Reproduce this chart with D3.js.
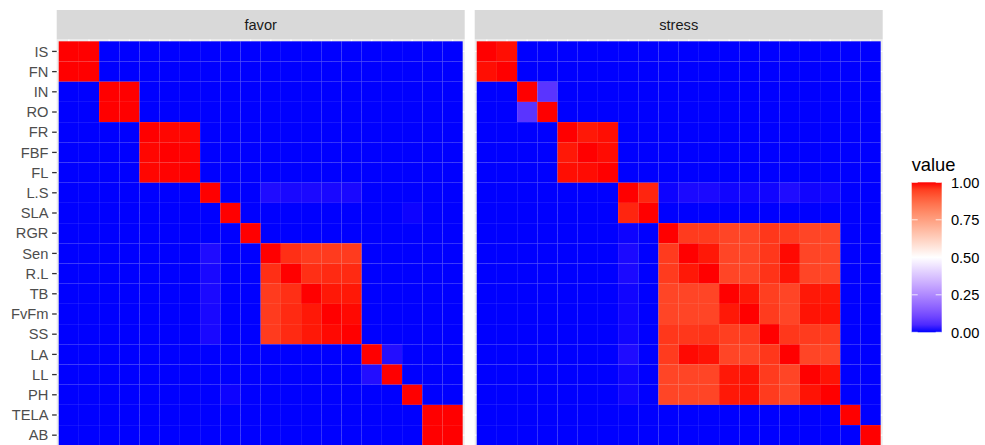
<!DOCTYPE html>
<html>
<head>
<meta charset="utf-8">
<script src="https://cdn.jsdelivr.net/npm/d3@7"></script>
<style>
  html, body { margin: 0; padding: 0; background: #ffffff; overflow: hidden; }
  svg { display: block; }
  text { font-family: "Liberation Sans", Arial, Helvetica, sans-serif; }
</style>
</head>
<body>
<svg id="chart" width="985" height="445"></svg>
<script>
// Trait names (rows top to bottom, columns left to right)
const traits = ["IS", "FN", "IN", "RO", "FR", "FBF", "FL", "L.S", "SLA", "RGR",
                "Sen", "R.L", "TB", "FvFm", "SS", "LA", "LL", "PH", "TELA", "AB"];

// Facet names
const facets = ["favor", "stress"];

// Pairwise values under the favourable condition
const favorValues = [
  [1, 1, 0, 0, 0, 0, 0, 0, 0, 0, 0, 0, 0, 0, 0, 0, 0, 0, 0, 0],
  [1, 1, 0, 0, 0, 0, 0, 0, 0, 0, 0, 0, 0, 0, 0, 0, 0, 0, 0, 0],
  [0, 0, 1, 1, 0, 0, 0, 0, 0, 0, 0, 0, 0, 0, 0, 0, 0, 0, 0, 0],
  [0, 0, 1, 1, 0, 0, 0, 0, 0, 0, 0, 0, 0, 0, 0, 0, 0, 0, 0, 0],
  [0, 0, 0, 0, 1, 0.998, 0.998, 0, 0, 0, 0, 0, 0, 0, 0, 0, 0, 0, 0, 0],
  [0, 0, 0, 0, 0.998, 1, 0.999, 0, 0, 0, 0, 0, 0, 0, 0, 0, 0, 0, 0, 0],
  [0, 0, 0, 0, 0.998, 0.999, 1, 0, 0, 0, 0, 0, 0, 0, 0, 0, 0, 0, 0, 0],
  [0, 0, 0, 0, 0, 0, 0, 1, 0, 0, 0.01, 0.007, 0.008, 0.007, 0.007, 0, 0, 0, 0, 0],
  [0, 0, 0, 0, 0, 0, 0, 0, 1, 0, 0, 0, 0, 0, 0, 0, 0, 0.003, 0, 0],
  [0, 0, 0, 0, 0, 0, 0, 0, 0, 1, 0, 0, 0, 0, 0, 0, 0, 0, 0, 0],
  [0, 0, 0, 0, 0, 0, 0, 0.01, 0, 0, 1, 0.97, 0.955, 0.955, 0.955, 0, 0, 0, 0, 0],
  [0, 0, 0, 0, 0, 0, 0, 0.007, 0, 0, 0.97, 1, 0.97, 0.975, 0.975, 0, 0, 0, 0, 0],
  [0, 0, 0, 0, 0, 0, 0, 0.008, 0, 0, 0.955, 0.97, 1, 0.99, 0.99, 0, 0, 0, 0, 0],
  [0, 0, 0, 0, 0, 0, 0, 0.007, 0, 0, 0.955, 0.975, 0.99, 1, 0.997, 0, 0, 0, 0, 0],
  [0, 0, 0, 0, 0, 0, 0, 0.007, 0, 0, 0.955, 0.975, 0.99, 0.997, 1, 0, 0, 0, 0, 0],
  [0, 0, 0, 0, 0, 0, 0, 0, 0, 0, 0, 0, 0, 0, 0, 1, 0.012, 0, 0, 0],
  [0, 0, 0, 0, 0, 0, 0, 0, 0, 0, 0, 0, 0, 0, 0, 0.012, 1, 0, 0, 0],
  [0, 0, 0, 0, 0, 0, 0, 0, 0.003, 0, 0, 0, 0, 0, 0, 0, 0, 1, 0, 0],
  [0, 0, 0, 0, 0, 0, 0, 0, 0, 0, 0, 0, 0, 0, 0, 0, 0, 0, 1, 1],
  [0, 0, 0, 0, 0, 0, 0, 0, 0, 0, 0, 0, 0, 0, 0, 0, 0, 0, 1, 1]
];

// Pairwise values under the stress condition
const stressValues = [
  [1, 0.995, 0, 0, 0, 0, 0, 0, 0, 0, 0, 0, 0, 0, 0, 0, 0, 0, 0, 0],
  [0.995, 1, 0, 0, 0, 0, 0, 0, 0, 0, 0, 0, 0, 0, 0, 0, 0, 0, 0, 0],
  [0, 0, 1, 0.07, 0, 0, 0, 0, 0, 0, 0, 0, 0, 0, 0, 0, 0, 0, 0, 0],
  [0, 0, 0.07, 1, 0, 0, 0, 0, 0, 0, 0, 0, 0, 0, 0, 0, 0, 0, 0, 0],
  [0, 0, 0, 0, 1, 0.99, 0.995, 0, 0, 0, 0, 0, 0, 0, 0, 0, 0, 0, 0, 0],
  [0, 0, 0, 0, 0.99, 1, 0.996, 0, 0, 0, 0, 0, 0, 0, 0, 0, 0, 0, 0, 0],
  [0, 0, 0, 0, 0.995, 0.996, 1, 0, 0, 0, 0, 0, 0, 0, 0, 0, 0, 0, 0, 0],
  [0, 0, 0, 0, 0, 0, 0, 1, 0.98, 0.003, 0.008, 0.008, 0.004, 0.004, 0.004, 0.01, 0.004, 0.004, 0, 0],
  [0, 0, 0, 0, 0, 0, 0, 0.98, 1, 0, 0, 0, 0, 0, 0, 0, 0, 0, 0, 0],
  [0, 0, 0, 0, 0, 0, 0, 0.003, 0, 1, 0.955, 0.955, 0.94, 0.94, 0.96, 0.955, 0.94, 0.94, 0, 0],
  [0, 0, 0, 0, 0, 0, 0, 0.008, 0, 0.955, 1, 0.99, 0.94, 0.94, 0.96, 0.997, 0.94, 0.94, 0, 0],
  [0, 0, 0, 0, 0, 0, 0, 0.008, 0, 0.955, 0.99, 1, 0.94, 0.94, 0.965, 0.993, 0.94, 0.94, 0, 0],
  [0, 0, 0, 0, 0, 0, 0, 0.004, 0, 0.94, 0.94, 0.94, 1, 0.99, 0.95, 0.94, 0.99, 0.99, 0, 0],
  [0, 0, 0, 0, 0, 0, 0, 0.004, 0, 0.94, 0.94, 0.94, 0.99, 1, 0.955, 0.94, 0.993, 0.993, 0, 0],
  [0, 0, 0, 0, 0, 0, 0, 0.004, 0, 0.96, 0.96, 0.965, 0.95, 0.955, 1, 0.96, 0.955, 0.955, 0, 0],
  [0, 0, 0, 0, 0, 0, 0, 0.01, 0, 0.955, 0.997, 0.993, 0.94, 0.94, 0.96, 1, 0.94, 0.94, 0, 0],
  [0, 0, 0, 0, 0, 0, 0, 0.004, 0, 0.94, 0.94, 0.94, 0.99, 0.993, 0.955, 0.94, 1, 0.993, 0, 0],
  [0, 0, 0, 0, 0, 0, 0, 0.004, 0, 0.94, 0.94, 0.94, 0.99, 0.993, 0.955, 0.94, 0.993, 1, 0, 0],
  [0, 0, 0, 0, 0, 0, 0, 0, 0, 0, 0, 0, 0, 0, 0, 0, 0, 0, 1, 0],
  [0, 0, 0, 0, 0, 0, 0, 0, 0, 0, 0, 0, 0, 0, 0, 0, 0, 0, 0, 1]
];

// Colour bar breaks
const legendBreaks = [0, 0.25, 0.5, 0.75, 1];
const legendLabels = ["0.00", "0.25", "0.50", "0.75", "1.00"];

const valuesByFacet = { favor: favorValues, stress: stressValues };

const svg = d3.select("#chart");

// Layout
const panelLeft = [56.7, 474.7];
const panelW = 408;
const panelTop = 39.3;
const panelH = 408;
const stripTop = 10;
const stripH = 29.3;
const fontBase = 14.67;

// Diverging fill: blue -> white -> red, midpoint 0.5, interpolated in Lab
const fill = d3.scaleLinear()
  .domain([0, 0.5, 1])
  .range(["#0000ff", "#ffffff", "#ff0000"])
  .interpolate(d3.interpolateLab);

const x = d3.scaleBand().domain(traits).range([0, panelW]).paddingInner(0).paddingOuter(0.1);
const y = d3.scaleBand().domain(traits).range([0, panelH]).paddingInner(0).paddingOuter(0.1);

facets.forEach((facet, fi) => {
  const g = svg.append("g").attr("transform", `translate(${panelLeft[fi]},${panelTop})`);

  // panel background + major grid
  g.append("rect").attr("width", panelW).attr("height", panelH).attr("fill", "#ebebeb");
  g.selectAll("line.vgrid").data(traits).join("line")
    .attr("class", "vgrid")
    .attr("x1", d => x(d) + x.bandwidth() / 2).attr("x2", d => x(d) + x.bandwidth() / 2)
    .attr("y1", 0).attr("y2", panelH)
    .attr("stroke", "#ffffff").attr("stroke-width", 1.35);
  g.selectAll("line.hgrid").data(traits).join("line")
    .attr("class", "hgrid")
    .attr("y1", d => y(d) + y.bandwidth() / 2).attr("y2", d => y(d) + y.bandwidth() / 2)
    .attr("x1", 0).attr("x2", panelW)
    .attr("stroke", "#ffffff").attr("stroke-width", 1.35);

  // tiles
  const cells = [];
  valuesByFacet[facet].forEach((row, ri) => {
    row.forEach((v, ci) => cells.push({ row: traits[ri], col: traits[ci], value: v }));
  });
  g.selectAll("rect.tile").data(cells).join("rect")
    .attr("class", "tile")
    .attr("x", d => x(d.col))
    .attr("y", d => y(d.row))
    .attr("width", x.bandwidth())
    .attr("height", y.bandwidth())
    .attr("fill", d => fill(d.value));

  // strip
  svg.append("rect")
    .attr("x", panelLeft[fi]).attr("y", stripTop)
    .attr("width", panelW).attr("height", stripH)
    .attr("fill", "#d9d9d9");
  svg.append("text")
    .attr("x", panelLeft[fi] + panelW / 2)
    .attr("y", stripTop + stripH / 2 + fontBase * 0.36)
    .attr("text-anchor", "middle")
    .attr("font-size", fontBase)
    .attr("fill", "#1a1a1a")
    .text(facet);
});

// y axis on the left panel
const yAxis = svg.append("g").attr("transform", `translate(${panelLeft[0]},${panelTop})`)
  .call(d3.axisLeft(y).tickSize(4.6).tickPadding(3.7));
yAxis.select(".domain").remove();
yAxis.selectAll(".tick line").attr("stroke", "#333333").attr("stroke-width", 1.3);
yAxis.selectAll(".tick text")
  .attr("font-size", fontBase)
  .attr("font-family", "Liberation Sans, Arial, Helvetica, sans-serif")
  .attr("fill", "#4d4d4d")
  .attr("dy", "0.36em");

// colour bar legend
const barX = 911.7, barTop = 182.3, barW = 30, barH = 150;
const legScale = d3.scaleLinear().domain([0, 1]).range([barTop + barH, barTop]);

const defs = svg.append("defs");
const grad = defs.append("linearGradient").attr("id", "valueGrad")
  .attr("x1", 0).attr("y1", 1).attr("x2", 0).attr("y2", 0);
grad.selectAll("stop").data(d3.range(0, 1.0001, 0.05)).join("stop")
  .attr("offset", d => d)
  .attr("stop-color", d => fill(d));

svg.append("text")
  .attr("x", barX).attr("y", 170.7)
  .attr("font-size", fontBase * 1.25)
  .attr("fill", "#000000")
  .text("value");

svg.append("rect")
  .attr("x", barX).attr("y", barTop)
  .attr("width", barW).attr("height", barH)
  .attr("fill", "url(#valueGrad)");

const tickLen = barW / 5;
svg.selectAll("line.legtickL").data(legendBreaks).join("line")
  .attr("class", "legtickL")
  .attr("x1", barX).attr("x2", barX + tickLen)
  .attr("y1", d => legScale(d)).attr("y2", d => legScale(d))
  .attr("stroke", "#ffffff").attr("stroke-width", 0.8);
svg.selectAll("line.legtickR").data(legendBreaks).join("line")
  .attr("class", "legtickR")
  .attr("x1", barX + barW - tickLen).attr("x2", barX + barW)
  .attr("y1", d => legScale(d)).attr("y2", d => legScale(d))
  .attr("stroke", "#ffffff").attr("stroke-width", 0.8);

svg.selectAll("text.leglab").data(legendBreaks).join("text")
  .attr("class", "leglab")
  .attr("x", barX + barW + 9.2)
  .attr("y", d => legScale(d))
  .attr("dy", "0.36em")
  .attr("font-size", fontBase)
  .attr("fill", "#000000")
  .text((d, i) => legendLabels[i]);
</script>
</body>
</html>
